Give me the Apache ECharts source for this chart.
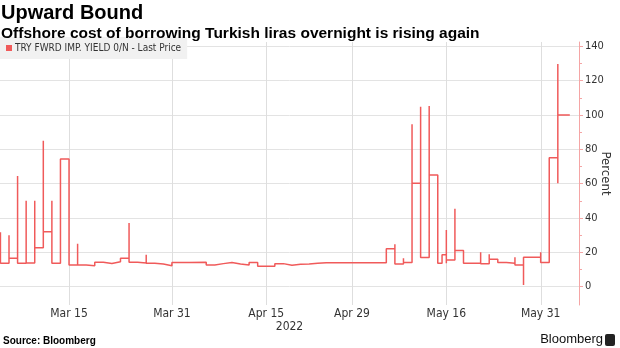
<!DOCTYPE html>
<html><head><meta charset="utf-8">
<script src="https://cdn.jsdelivr.net/npm/echarts@6/dist/echarts.min.js"></script>
<style>html,body{margin:0;padding:0;background:#fff}#c{width:620px;height:348px}</style>
</head><body><div id="c"></div>
<script>
// trading-day index (0 = Mar 3, 2022) at which the value changes
const dayIndex = [0,0, 1,1, 2,2, 3,3, 4,4, 5,5, 6,6, 7, 8, 9,9, 10, 11, 12, 13, 14, 15,15, 16, 17,17, 18, 19, 20, 22, 24, 25, 26, 27, 28, 29, 30, 32, 33, 34, 35, 36, 37, 38,38, 45, 46,46, 47,47, 48,48, 49,49, 50,50, 51, 51.5, 52,52,52, 53,53, 54, 56,56, 57,57, 58, 59, 60,60, 61,61, 63,63, 64, 65,65,65, 66.4];
const yieldValues = [31.7,13.6, 30,16.5, 64.5,13.6, 50,13.8, 50,22.7, 85,32, 50,13.6, 74.4, 12.6, 25,12.6, 12.2, 14.2, 13.5, 14.5, 16.5, 37,14.2, 13.8, 18.5,13.6, 13.2, 12.2, 14.0, 14.2, 12.6, 13.4, 14, 13.2, 12.6, 14, 11.9, 13.4, 12.4, 13.0, 13.2, 13.6, 13.9, 14.6,13.9, 22, 24.7,13.2, 16.5,14, 94.6,60.2, 104.8,16.9, 105.2,65, 13.6, 18.5, 33,13.6,15.5, 45.3,21, 13.6, 20,13.4, 18.8,16, 14, 13.6, 17.1,12.6, 1.0,17.1, 20,14, 75.1, 129.7,60.2,100, 100];
const xTickDays = [8, 20, 31, 41, 52, 63];
const xTickLabels = ['Mar 15', 'Mar 31', 'Apr 15', 'Apr 29', 'May 16', 'May 31'];
const yTicks = [0, 20, 40, 60, 80, 100, 120, 140];
const yMinorTicks = [10, 30, 50, 70, 90, 110, 130];
const seriesName = 'TRY FWRD IMP. YIELD 0/N - Last Price';

const narrow = "'Liberation Sans Narrow', 'DejaVu Sans Condensed', 'Liberation Sans', sans-serif";
const sans = "'Liberation Sans', Arial, sans-serif";
const red = '#f05a5a';
const axisPink = '#f5a5a5';
const gridGray = '#e3e3e3';
const yMin = -10.7, yMax = 142.5;

const chart = echarts.init(document.getElementById('c'), null, {renderer: 'canvas'});
chart.setOption({
  animation: false,
  backgroundColor: '#fff',
  title: {
    text: 'Upward Bound',
    subtext: 'Offshore cost of borrowing Turkish liras overnight is rising again',
    left: 0, top: 0, padding: [3, 0, 0, 1], itemGap: 3,
    textStyle: {fontFamily: sans, fontSize: 20, fontWeight: 'bold', color: '#000'},
    subtextStyle: {fontFamily: sans, fontSize: 15.5, fontWeight: 'bold', color: '#000'}
  },
  legend: {
    left: 0, top: 37, padding: [6, 6, 6, 6],
    backgroundColor: '#f1f1f1',
    icon: 'rect', itemWidth: 6, itemHeight: 6, itemGap: 4,
    textStyle: {fontFamily: narrow, fontSize: 10, color: '#333', padding: [0, 0, 0, -2]},
    data: [seriesName]
  },
  grid: {left: 0, right: 41, top: 42, bottom: 43, containLabel: false, outerBoundsMode: 'none'},
  xAxis: {
    type: 'value', min: -0.05, max: 67.47,
    axisLine: {show: false, onZero: false},
    axisTick: {show: false, customValues: xTickDays},
    axisLabel: {
      customValues: xTickDays,
      formatter: v => xTickLabels[xTickDays.indexOf(v)],
      fontFamily: narrow, fontSize: 12, color: '#333', margin: 3
    },
    splitLine: {show: false},
    name: '2022', nameLocation: 'middle', nameGap: 16, nameMoveOverlap: false,
    nameTextStyle: {fontFamily: narrow, fontSize: 12, color: '#333'}
  },
  yAxis: [{
    type: 'value', position: 'right', min: yMin, max: yMax,
    axisLine: {show: true, onZero: false, lineStyle: {color: axisPink, width: 1}},
    axisTick: {show: true, customValues: yTicks, length: 4, lineStyle: {color: axisPink}},
    axisLabel: {customValues: yTicks, fontFamily: narrow, fontSize: 11, color: '#333', margin: 6},
    splitLine: {show: true, lineStyle: {color: gridGray, width: 1}},
    name: 'Percent', nameLocation: 'middle', nameRotate: -90, nameGap: 20, nameMoveOverlap: false,
    nameTextStyle: {fontFamily: narrow, fontSize: 13, color: '#333'}
  }, {
    type: 'value', position: 'right', min: yMin, max: yMax,
    axisLine: {show: false, onZero: false},
    axisTick: {show: true, customValues: yMinorTicks, length: 3, lineStyle: {color: axisPink}},
    axisLabel: {show: false},
    splitLine: {show: false}
  }],
  series: [{
    type: 'custom',
    silent: true,
    z: 1,
    yAxisIndex: 0,
    clip: false,
    data: xTickDays.map(d => [d, yMin]),
    encode: {x: 0, y: 1},
    renderItem: (params, api) => {
      const p0 = api.coord([api.value(0), yMin]);
      const p1 = api.coord([api.value(0), yMax]);
      const x = Math.round(p0[0]) + 0.5;
      return {type: 'line', shape: {x1: x, y1: p0[1], x2: x, y2: p1[1]}, style: {stroke: '#dedede', lineWidth: 1}};
    }
  }, {
    name: seriesName,
    type: 'line', step: 'end', showSymbol: false, symbol: 'none',
    yAxisIndex: 0, z: 3,
    itemStyle: {color: red},
    lineStyle: {color: red, width: 1.5},
    data: dayIndex.map((t, i) => [t, yieldValues[i]])
  }],
  graphic: [
    {type: 'text', left: 3, top: 336, style: {text: 'Source: Bloomberg', font: "bold 10px 'Liberation Sans', Arial, sans-serif", fill: '#000'}},
    {type: 'text', right: 17, top: 333, style: {text: 'Bloomberg', font: "13px 'Liberation Sans', Arial, sans-serif", fill: '#111'}},
    {type: 'rect', right: 5, top: 334, shape: {width: 10, height: 12, r: 2}, style: {fill: '#222'}}
  ]
});
</script></body></html>
